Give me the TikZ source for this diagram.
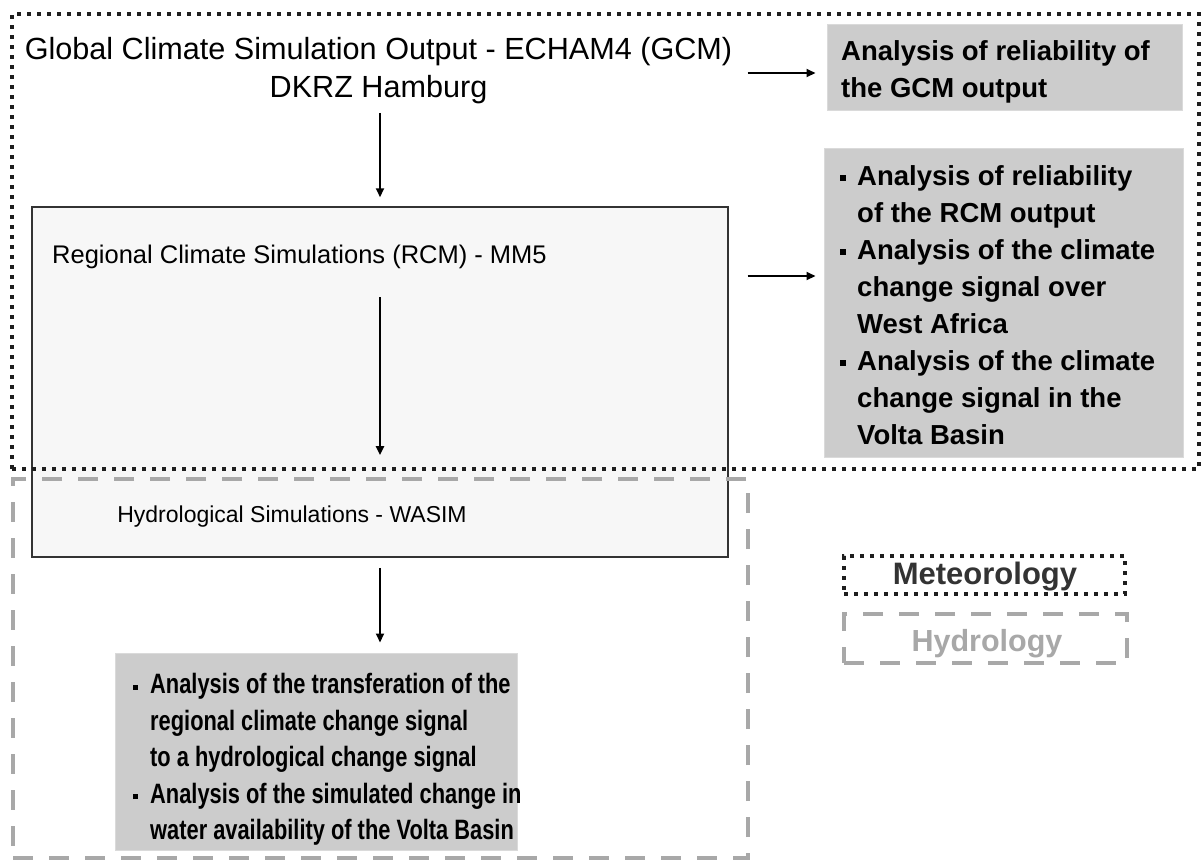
\documentclass[tikz,border=0pt]{standalone}
\usepackage{fontspec}
\setmainfont{Liberation Sans}
\newfontfamily\condfont[FakeStretch=0.78]{Liberation Sans}
\usetikzlibrary{arrows.meta}
\definecolor{panelgray}{HTML}{CCCCCC}
\definecolor{paneledge}{HTML}{DADADA}
\definecolor{simfill}{HTML}{F7F7F7}
\definecolor{simedge}{HTML}{333333}
\definecolor{hydgray}{HTML}{A8A8A8}
\definecolor{metdark}{HTML}{1E1E1E}
\newcommand{\bul}{\llap{\raisebox{4pt}{\rule{6pt}{6pt}}\hspace{11pt}}}
\newcommand{\cbul}{\llap{\raisebox{4pt}{\rule{5pt}{5pt}}\hspace{12pt}}}
\begin{document}
\begin{tikzpicture}[x=1pt,y=-1pt,
  simbox/.style={draw=simedge,line width=1.5pt,fill=simfill,inner sep=0pt},
  panel/.style={draw=paneledge,line width=1pt,fill=panelgray,inner sep=0pt},
  metframe/.style={draw=metdark,line width=4pt,dash pattern=on 4pt off 6pt,inner sep=0pt},
  hydframe/.style={draw=hydgray,line width=4pt,dash pattern=on 20pt off 16pt,inner sep=0pt},
  arr/.style={line width=2pt,-{Triangle[length=9pt,width=8pt]}},
  plain/.style={inner sep=0pt},
  boldtxt/.style={inner sep=0pt,align=left,font=\fontsize{27.5pt}{37pt}\selectfont\bfseries},
  condtxt/.style={inner sep=0pt,align=left,font=\fontsize{28pt}{36.5pt}\selectfont\condfont\bfseries},
]
\useasboundingbox (0,0) rectangle (1202,863);
\fill[white] (0,0) rectangle (1202,863);

% simulation chain box
\node[simbox,minimum width=696pt,minimum height=350pt] (rcm) at (380,382) {};

% group frames
\node[metframe,minimum width=1187pt,minimum height=455pt] (metgroup) at (605.5,241.5) {};
\node[hydframe,minimum width=735pt,minimum height=379pt] (hydgroup) at (380.5,668.5) {};

% analysis panels
\node[panel,minimum width=355pt,minimum height=86pt] (gcmana) at (1004.5,67) {};
\node[panel,minimum width=359pt,minimum height=309pt] (rcmana) at (1003.5,302.5) {};
\node[panel,minimum width=402pt,minimum height=197pt] (hydana) at (316,751.5) {};

% texts
\node[plain,align=center,anchor=north,font=\fontsize{30.6pt}{38pt}\selectfont] (gcm) at (378.5,37)
  {Global Climate Simulation Output - ECHAM4 (GCM)\\DKRZ Hamburg};
\node[plain,anchor=base west,font=\fontsize{25.5pt}{30pt}\selectfont] (regional) at (52,263)
  {Regional Climate Simulations (RCM) - MM5};
\node[plain,anchor=base,font=\fontsize{23pt}{28pt}\selectfont] (hydro) at (292,522)
  {Hydrological Simulations - WASIM};

\node[boldtxt,anchor=north west] (gcmtxt) at (841,40)
  {Analysis of reliability of\\the GCM output};
\node[boldtxt,anchor=north west] (rcmtxt) at (857,165)
  {\bul Analysis of reliability\\of the RCM output\\
   \bul Analysis of the climate\\change signal over\\West Africa\\
   \bul Analysis of the climate\\change signal in the\\Volta Basin};
\node[condtxt,anchor=north west] (hydtxt) at (150,673)
  {\cbul Analysis of the transferation of the\\regional climate change signal\\
   to a hydrological change signal\\
   \cbul Analysis of the simulated change in\\water availability of the Volta Basin};

% legend
\node[metframe,line width=3.5pt,minimum width=281pt,minimum height=38pt] (metkey) at (984.5,575) {};
\node[hydframe,minimum width=283pt,minimum height=49pt] (hydkey) at (985.5,638.5) {};
\node[inner sep=0pt,anchor=base,text=simedge,font=\fontsize{31pt}{34pt}\selectfont\bfseries] (metlabel) at (985,584) {Meteorology};
\node[inner sep=0pt,anchor=base,text=hydgray,font=\fontsize{30.5pt}{34pt}\selectfont\bfseries] (hydlabel) at (987,651) {Hydrology};

% connectors
\coordinate (axis) at (380,0);
\draw[arr,shorten <=9pt,shorten >=9pt] (gcm.south -| axis) -- (rcm.north -| axis);
\draw[arr,shorten <=29pt,shorten >=50pt] (regional.south -| axis) -- (hydro.north -| axis);
\draw[arr,shorten <=10pt,shorten >=10pt] (rcm.south -| axis) -- (hydana.north -| axis);
\draw[arr] ([xshift=-79pt,yshift=-6pt]gcmana.west) -- ([xshift=-11pt,yshift=-6pt]gcmana.west);
\draw[arr] ([xshift=-76pt,yshift=26.5pt]rcmana.west) -- ([xshift=-8pt,yshift=26.5pt]rcmana.west);
\end{tikzpicture}
\end{document}
